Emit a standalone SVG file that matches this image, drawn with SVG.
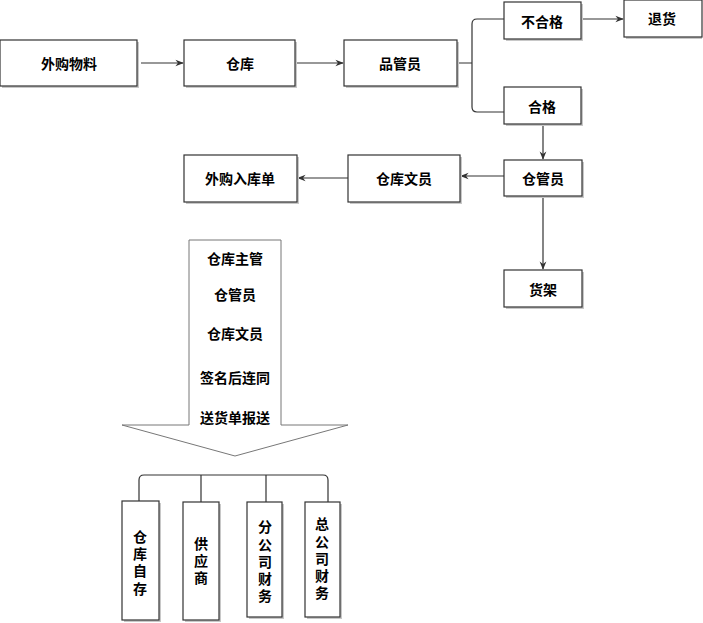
<svg xmlns="http://www.w3.org/2000/svg" width="703" height="623" viewBox="0 0 703 623">
<style>
.box{fill:#fff;stroke:#333;stroke-width:1.2}
.sh{fill:#c8c8c8}
.t{font-family:"Noto Sans CJK SC","Liberation Sans",sans-serif;font-size:14px;font-weight:bold;fill:#000;text-anchor:middle;dominant-baseline:central}
.v{font-family:"Noto Sans CJK SC","Liberation Sans",sans-serif;font-size:14px;font-weight:bold;fill:#000;text-anchor:middle;writing-mode:vertical-rl;text-orientation:upright;letter-spacing:3.2px}
.c{fill:none;stroke:#333;stroke-width:1.2}
.big{fill:#fff;stroke:#777;stroke-width:1}
</style>
<defs>
<marker id="ah" viewBox="0 0 10 10" refX="9" refY="5" markerWidth="7" markerHeight="7" orient="auto">
<path d="M0,1 L10,5 L0,9 L3,5 Z" fill="#333"/>
</marker>
</defs>
<rect width="703" height="623" fill="#fff"/>
<g id="connectors">
<path class="c" d="M141,63 H183" marker-end="url(#ah)"/>
<path class="c" d="M296,63 H343" marker-end="url(#ah)"/>
<path class="c" d="M457,63 H472 M504,19 H477 Q472,19 472,24 V107 Q472,112 477,112 H504"/>
<path class="c" d="M581,19 H623" marker-end="url(#ah)"/>
<path class="c" d="M543,124 V159" marker-end="url(#ah)"/>
<path class="c" d="M504,176 H461" marker-end="url(#ah)"/>
<path class="c" d="M348,178 H298" marker-end="url(#ah)"/>
<path class="c" d="M543,196 V269" marker-end="url(#ah)"/>
<path class="c" d="M139,501 V480 Q139,475 144,475 H323 Q328,475 328,480 V502 M201,475 V502 M266,475 V502"/>
</g>
<g id="n1"><rect class="sh" x="2" y="42" width="137" height="46"/><rect class="box" x="0" y="40" width="137" height="46"/><text class="t" x="69" y="63">外购物料</text></g>
<g id="n2"><rect class="sh" x="186" y="42" width="111" height="46"/><rect class="box" x="184" y="40" width="111" height="46"/><text class="t" x="240" y="63">仓库</text></g>
<g id="n3"><rect class="sh" x="346" y="42" width="113" height="46"/><rect class="box" x="344" y="40" width="113" height="46"/><text class="t" x="400" y="63">品管员</text></g>
<g id="n4"><rect class="sh" x="506" y="4" width="77" height="37"/><rect class="box" x="504" y="2" width="77" height="37"/><text class="t" x="542" y="21">不合格</text></g>
<g id="n5"><rect class="sh" x="626" y="2" width="76" height="37"/><rect class="box" x="624" y="0" width="78" height="37"/><text class="t" x="662" y="18">退货</text></g>
<g id="n6"><rect class="sh" x="506" y="89" width="77" height="37"/><rect class="box" x="504" y="87" width="77" height="37"/><text class="t" x="542" y="106">合格</text></g>
<g id="n7"><rect class="sh" x="506" y="162" width="78" height="36"/><rect class="box" x="504" y="160" width="78" height="36"/><text class="t" x="543" y="178">仓管员</text></g>
<g id="n8"><rect class="sh" x="350" y="157" width="112" height="47"/><rect class="box" x="348" y="155" width="112" height="47"/><text class="t" x="404" y="178">仓库文员</text></g>
<g id="n9"><rect class="sh" x="186" y="157" width="113" height="47"/><rect class="box" x="184" y="155" width="113" height="47"/><text class="t" x="240" y="178">外购入库单</text></g>
<g id="n10"><rect class="sh" x="506" y="272" width="78" height="37"/><rect class="box" x="504" y="270" width="78" height="37"/><text class="t" x="543" y="289">货架</text></g>
<g id="n11">
<path class="big" d="M189,240 H281 V425 H348 L235,456 L122,425 H189 Z"/>
<text class="t" x="235" y="258">仓库主管</text>
<text class="t" x="235" y="294">仓管员</text>
<text class="t" x="235" y="333">仓库文员</text>
<text class="t" x="235" y="377">签名后连同</text>
<rect x="197" y="408" width="76" height="19" fill="#fff"/>
<text class="t" x="235" y="417">送货单报送</text>
</g>
<g id="n12"><rect class="sh" x="124" y="503" width="37" height="119"/><rect class="box" x="122" y="501" width="37" height="119"/><text class="v" x="140" y="564">仓库自存</text></g>
<g id="n13"><rect class="sh" x="185" y="504" width="36" height="118"/><rect class="box" x="183" y="502" width="36" height="118"/><text class="v" x="201" y="562">供应商</text></g>
<g id="n14"><rect class="sh" x="249" y="504" width="35" height="115"/><rect class="box" x="247" y="502" width="35" height="115"/><text class="v" x="265" y="563">分公司财务</text></g>
<g id="n15"><rect class="sh" x="307" y="504" width="35" height="115"/><rect class="box" x="305" y="502" width="35" height="115"/><text class="v" x="322" y="560">总公司财务</text></g>
</svg>
